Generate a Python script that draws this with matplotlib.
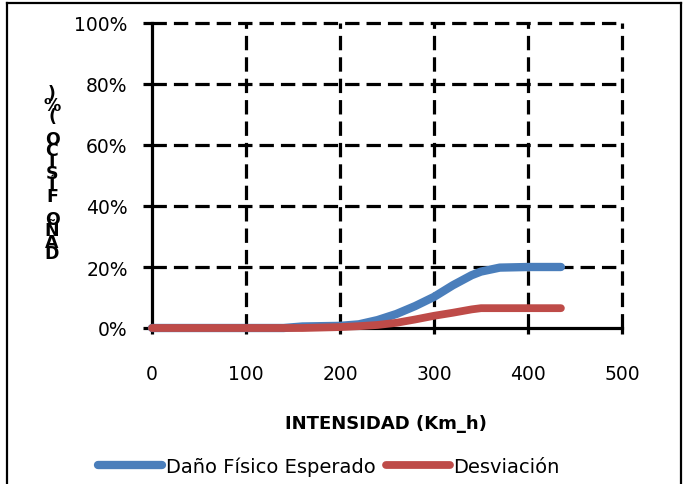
import matplotlib
matplotlib.use('Agg')
import matplotlib.pyplot as plt
from matplotlib.lines import Line2D
from matplotlib.ticker import FuncFormatter

# =============================================================================
# DATA
# =============================================================================

intensidad = [0, 50, 100, 140, 160, 200, 220, 240, 260, 280, 300, 320, 340,
              350, 370, 400, 435]
dano_fisico = [0.0, 0.0, 0.0, 0.0, 0.5, 0.7, 1.2, 2.6, 4.6, 7.2, 10.2, 14.0,
               17.3, 18.5, 19.8, 20.0, 20.0]
desviacion = [0.0, 0.0, 0.0, 0.0, 0.0, 0.3, 0.6, 1.0, 1.7, 2.8, 4.0, 5.0,
              6.1, 6.5, 6.5, 6.5, 6.5]

x_ticks = [0, 100, 200, 300, 400, 500]
y_ticks = [0, 20, 40, 60, 80, 100]

series_labels = ['Daño Físico Esperado', 'Desviación']
x_label = 'INTENSIDAD (Km_h)'
y_label = 'DAÑO FÍSICO (%)'

BLUE = '#4A7EBB'
RED = '#BE4B48'

plt.rcParams['font.family'] = ['DejaVu Sans']

# =============================================================================
# PLOT
# =============================================================================

W, H = 688, 485
fig = plt.figure(figsize=(W / 100, H / 100), dpi=100)
ax = fig.add_axes([152 / W, 1 - 329 / H, 470 / W, 305 / H])

ax.plot(intensidad, dano_fisico, color=BLUE, lw=6.0,
        solid_capstyle='round', solid_joinstyle='round',
        label=series_labels[0], zorder=3, clip_on=False)
ax.plot(intensidad, desviacion, color=RED, lw=5.6,
        solid_capstyle='round', solid_joinstyle='round',
        label=series_labels[1], zorder=4, clip_on=False)

ax.set_xlim(0, 500)
ax.set_ylim(0, 100)
ax.set_xticks(x_ticks)
ax.set_yticks(y_ticks)
ax.yaxis.set_major_formatter(FuncFormatter(lambda v, p: f'{v:.0f}%'))

# dashed grid, incl. the top and right edges
for yv in y_ticks[1:]:
    ax.axhline(yv, color='black', lw=2.3, ls=(0, (4.5, 2.2)), zorder=1,
               clip_on=False)
for xv in x_ticks[1:]:
    ax.axvline(xv, color='black', lw=2.3, ls=(0, (4.5, 2.2)), zorder=1,
               clip_on=False)

for side in ['top', 'right']:
    ax.spines[side].set_visible(False)
for side in ['left', 'bottom']:
    ax.spines[side].set_linewidth(2.3)
    ax.spines[side].set_zorder(2)

ax.tick_params(axis='y', length=6.5, width=2.3, pad=11, labelsize=13.5)
ax.tick_params(axis='x', length=4, width=2.3, pad=22, labelsize=13.5)

fig.text(386 / W, 1 - 424 / H, x_label, ha='center', va='center',
         fontsize=13, fontweight='bold')

# stacked y label (characters piled bottom-up, as in the original)
chars = list(y_label)
y0, step = 254, 11.4
for i, ch in enumerate(chars):
    fig.text(52 / W, 1 - (y0 - i * step) / H, ch, ha='center', va='center',
             fontsize=12.5, fontweight='bold')

leg = fig.legend(loc='center', bbox_to_anchor=(329 / W, 1 - 467 / H), ncol=2,
                 frameon=False, fontsize=14, handlelength=3.3,
                 handletextpad=0.2, columnspacing=0.5, borderaxespad=0)

# outer frame
for xs, ys in [([7 / W, 7 / W], [0, 1 - 4 / H]),
               ([7 / W, 681 / W], [1 - 4 / H, 1 - 4 / H]),
               ([681 / W, 681 / W], [0, 1 - 4 / H])]:
    fig.add_artist(Line2D(xs, ys, color='black', lw=1.6))

fig.savefig('out.png', dpi=100)
